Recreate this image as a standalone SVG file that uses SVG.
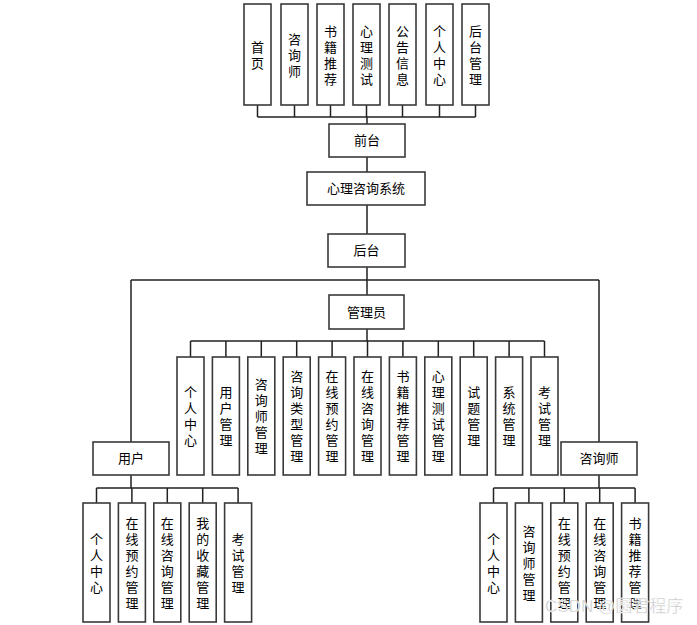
<svg xmlns="http://www.w3.org/2000/svg" width="697" height="625" viewBox="0 0 697 625">
<style>
.box{fill:#fff;stroke:#3a3a3a;stroke-width:1.6}
.t{font-family:"Noto Sans CJK SC","Noto Sans",sans-serif;font-size:13px;fill:#000;text-anchor:middle}
.c{fill:none;stroke:#222;stroke-width:1.5}
.wm{font-family:"Liberation Sans","Noto Sans CJK SC",sans-serif;font-size:17px;fill:#c8c8c8;stroke:#fff;stroke-width:0.4}
</style>
<rect width="697" height="625" fill="#fff"/>
<g id="connectors" class="c">
<path d="M257.5 105V117M294.5 105V117M330.5 105V117M366.5 105V117M402.5 105V117M439.5 105V117M475.5 105V117M257.5 117H475.5M367 117V124"/>
<path d="M367 157V172M367 205V234M367 267V295M131 280H599M131 280V442M599 280V442"/>
<path d="M367 329V341M190.5 341H544.5M190.5 341V357M225.9 341V357M261.3 341V357M296.7 341V357M332.1 341V357M367.5 341V357M402.9 341V357M438.3 341V357M473.7 341V357M509.1 341V357M544.5 341V357"/>
<path d="M131 475V488M96.5 488H238.1M96.5 488V503M131.9 488V503M167.3 488V503M202.7 488V503M238.1 488V503"/>
<path d="M599 475V488M493.5 488H635.1M493.5 488V503M528.9 488V503M564.3 488V503M599.7 488V503M635.1 488V503"/>
</g>
<g id="top1"><rect class="box" x="244" y="4" width="27" height="101"/><text class="t" x="257.5" y="51.5">首<tspan x="257.5" dy="16">页</tspan></text></g>
<g id="top2"><rect class="box" x="281" y="4" width="27" height="101"/><text class="t" x="294.5" y="43.5">咨<tspan x="294.5" dy="16">询</tspan><tspan x="294.5" dy="16">师</tspan></text></g>
<g id="top3"><rect class="box" x="317" y="4" width="27" height="101"/><text class="t" x="330.5" y="35.5">书<tspan x="330.5" dy="16">籍</tspan><tspan x="330.5" dy="16">推</tspan><tspan x="330.5" dy="16">荐</tspan></text></g>
<g id="top4"><rect class="box" x="353" y="4" width="27" height="101"/><text class="t" x="366.5" y="35.5">心<tspan x="366.5" dy="16">理</tspan><tspan x="366.5" dy="16">测</tspan><tspan x="366.5" dy="16">试</tspan></text></g>
<g id="top5"><rect class="box" x="389" y="4" width="27" height="101"/><text class="t" x="402.5" y="35.5">公<tspan x="402.5" dy="16">告</tspan><tspan x="402.5" dy="16">信</tspan><tspan x="402.5" dy="16">息</tspan></text></g>
<g id="top6"><rect class="box" x="426" y="4" width="27" height="101"/><text class="t" x="439.5" y="35.5">个<tspan x="439.5" dy="16">人</tspan><tspan x="439.5" dy="16">中</tspan><tspan x="439.5" dy="16">心</tspan></text></g>
<g id="top7"><rect class="box" x="462" y="4" width="27" height="101"/><text class="t" x="475.5" y="35.5">后<tspan x="475.5" dy="16">台</tspan><tspan x="475.5" dy="16">管</tspan><tspan x="475.5" dy="16">理</tspan></text></g>
<g id="qiantai"><rect class="box" x="329" y="124" width="76" height="33"/><text class="t" x="367" y="145">前台</text></g>
<g id="system"><rect class="box" x="307" y="172" width="118" height="33"/><text class="t" x="366" y="193">心理咨询系统</text></g>
<g id="houtai"><rect class="box" x="328" y="234" width="77" height="33"/><text class="t" x="366.5" y="255">后台</text></g>
<g id="admin"><rect class="box" x="329" y="295" width="75" height="34"/><text class="t" x="366.5" y="316.5">管理员</text></g>
<g id="a1"><rect class="box" x="177" y="357" width="27" height="118"/><text class="t" x="190.5" y="397">个<tspan x="190.5" dy="16">人</tspan><tspan x="190.5" dy="16">中</tspan><tspan x="190.5" dy="16">心</tspan></text></g>
<g id="a2"><rect class="box" x="212.4" y="357" width="27" height="118"/><text class="t" x="225.9" y="397">用<tspan x="225.9" dy="16">户</tspan><tspan x="225.9" dy="16">管</tspan><tspan x="225.9" dy="16">理</tspan></text></g>
<g id="a3"><rect class="box" x="247.8" y="357" width="27" height="118"/><text class="t" x="261.3" y="389">咨<tspan x="261.3" dy="16">询</tspan><tspan x="261.3" dy="16">师</tspan><tspan x="261.3" dy="16">管</tspan><tspan x="261.3" dy="16">理</tspan></text></g>
<g id="a4"><rect class="box" x="283.2" y="357" width="27" height="118"/><text class="t" x="296.7" y="381">咨<tspan x="296.7" dy="16">询</tspan><tspan x="296.7" dy="16">类</tspan><tspan x="296.7" dy="16">型</tspan><tspan x="296.7" dy="16">管</tspan><tspan x="296.7" dy="16">理</tspan></text></g>
<g id="a5"><rect class="box" x="318.6" y="357" width="27" height="118"/><text class="t" x="332.1" y="381">在<tspan x="332.1" dy="16">线</tspan><tspan x="332.1" dy="16">预</tspan><tspan x="332.1" dy="16">约</tspan><tspan x="332.1" dy="16">管</tspan><tspan x="332.1" dy="16">理</tspan></text></g>
<g id="a6"><rect class="box" x="354" y="357" width="27" height="118"/><text class="t" x="367.5" y="381">在<tspan x="367.5" dy="16">线</tspan><tspan x="367.5" dy="16">咨</tspan><tspan x="367.5" dy="16">询</tspan><tspan x="367.5" dy="16">管</tspan><tspan x="367.5" dy="16">理</tspan></text></g>
<g id="a7"><rect class="box" x="389.4" y="357" width="27" height="118"/><text class="t" x="402.9" y="381">书<tspan x="402.9" dy="16">籍</tspan><tspan x="402.9" dy="16">推</tspan><tspan x="402.9" dy="16">荐</tspan><tspan x="402.9" dy="16">管</tspan><tspan x="402.9" dy="16">理</tspan></text></g>
<g id="a8"><rect class="box" x="424.8" y="357" width="27" height="118"/><text class="t" x="438.3" y="381">心<tspan x="438.3" dy="16">理</tspan><tspan x="438.3" dy="16">测</tspan><tspan x="438.3" dy="16">试</tspan><tspan x="438.3" dy="16">管</tspan><tspan x="438.3" dy="16">理</tspan></text></g>
<g id="a9"><rect class="box" x="460.2" y="357" width="27" height="118"/><text class="t" x="473.7" y="397">试<tspan x="473.7" dy="16">题</tspan><tspan x="473.7" dy="16">管</tspan><tspan x="473.7" dy="16">理</tspan></text></g>
<g id="a10"><rect class="box" x="495.6" y="357" width="27" height="118"/><text class="t" x="509.1" y="397">系<tspan x="509.1" dy="16">统</tspan><tspan x="509.1" dy="16">管</tspan><tspan x="509.1" dy="16">理</tspan></text></g>
<g id="a11"><rect class="box" x="531" y="357" width="27" height="118"/><text class="t" x="544.5" y="397">考<tspan x="544.5" dy="16">试</tspan><tspan x="544.5" dy="16">管</tspan><tspan x="544.5" dy="16">理</tspan></text></g>
<g id="user"><rect class="box" x="93" y="442" width="76" height="33"/><text class="t" x="131" y="463">用户</text></g>
<g id="u1"><rect class="box" x="83" y="503" width="27" height="119"/><text class="t" x="96.5" y="543.5">个<tspan x="96.5" dy="16">人</tspan><tspan x="96.5" dy="16">中</tspan><tspan x="96.5" dy="16">心</tspan></text></g>
<g id="u2"><rect class="box" x="118.4" y="503" width="27" height="119"/><text class="t" x="131.9" y="527.5">在<tspan x="131.9" dy="16">线</tspan><tspan x="131.9" dy="16">预</tspan><tspan x="131.9" dy="16">约</tspan><tspan x="131.9" dy="16">管</tspan><tspan x="131.9" dy="16">理</tspan></text></g>
<g id="u3"><rect class="box" x="153.8" y="503" width="27" height="119"/><text class="t" x="167.3" y="527.5">在<tspan x="167.3" dy="16">线</tspan><tspan x="167.3" dy="16">咨</tspan><tspan x="167.3" dy="16">询</tspan><tspan x="167.3" dy="16">管</tspan><tspan x="167.3" dy="16">理</tspan></text></g>
<g id="u4"><rect class="box" x="189.2" y="503" width="27" height="119"/><text class="t" x="202.7" y="527.5">我<tspan x="202.7" dy="16">的</tspan><tspan x="202.7" dy="16">收</tspan><tspan x="202.7" dy="16">藏</tspan><tspan x="202.7" dy="16">管</tspan><tspan x="202.7" dy="16">理</tspan></text></g>
<g id="u5"><rect class="box" x="224.6" y="503" width="27" height="119"/><text class="t" x="238.1" y="543.5">考<tspan x="238.1" dy="16">试</tspan><tspan x="238.1" dy="16">管</tspan><tspan x="238.1" dy="16">理</tspan></text></g>
<g id="counselor"><rect class="box" x="561" y="442" width="76" height="33"/><text class="t" x="599" y="463">咨询师</text></g>
<g id="c1"><rect class="box" x="480" y="503" width="27" height="119"/><text class="t" x="493.5" y="543.5">个<tspan x="493.5" dy="16">人</tspan><tspan x="493.5" dy="16">中</tspan><tspan x="493.5" dy="16">心</tspan></text></g>
<g id="c2"><rect class="box" x="515.4" y="503" width="27" height="119"/><text class="t" x="528.9" y="535.5">咨<tspan x="528.9" dy="16">询</tspan><tspan x="528.9" dy="16">师</tspan><tspan x="528.9" dy="16">管</tspan><tspan x="528.9" dy="16">理</tspan></text></g>
<g id="c3"><rect class="box" x="550.8" y="503" width="27" height="119"/><text class="t" x="564.3" y="527.5">在<tspan x="564.3" dy="16">线</tspan><tspan x="564.3" dy="16">预</tspan><tspan x="564.3" dy="16">约</tspan><tspan x="564.3" dy="16">管</tspan><tspan x="564.3" dy="16">理</tspan></text></g>
<g id="c4"><rect class="box" x="586.2" y="503" width="27" height="119"/><text class="t" x="599.7" y="527.5">在<tspan x="599.7" dy="16">线</tspan><tspan x="599.7" dy="16">咨</tspan><tspan x="599.7" dy="16">询</tspan><tspan x="599.7" dy="16">管</tspan><tspan x="599.7" dy="16">理</tspan></text></g>
<g id="c5"><rect class="box" x="621.6" y="503" width="27" height="119"/><text class="t" x="635.1" y="527.5">书<tspan x="635.1" dy="16">籍</tspan><tspan x="635.1" dy="16">推</tspan><tspan x="635.1" dy="16">荐</tspan><tspan x="635.1" dy="16">管</tspan><tspan x="635.1" dy="16">理</tspan></text></g>
<text class="wm" x="545" y="612">CSDN @圆君程序</text>
</svg>
